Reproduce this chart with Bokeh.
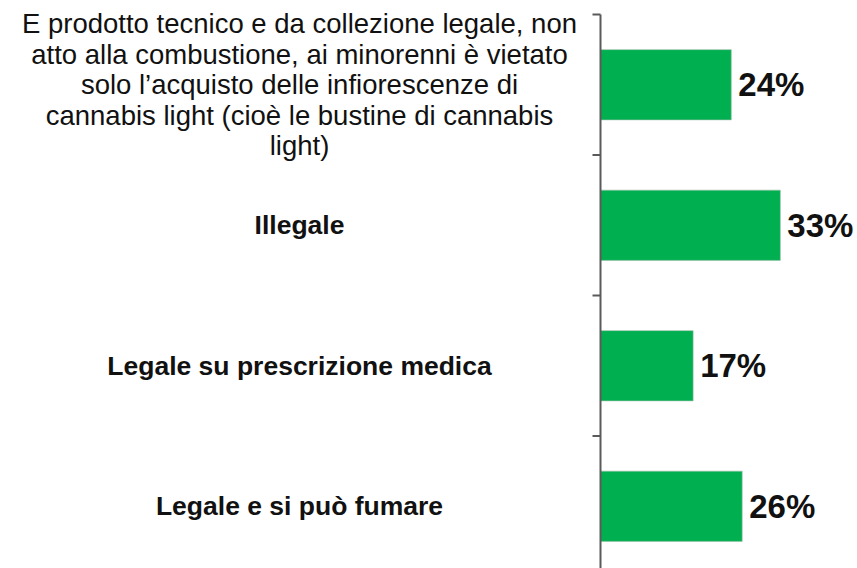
from bokeh.plotting import figure
from bokeh.models import Range1d, ColumnDataSource
from bokeh.core.properties import value
from bokeh.embed import file_html
from bokeh.resources import INLINE

# ---- data ----
categories = [
    "E prodotto tecnico e da collezione legale, non\natto alla combustione, ai minorenni è vietato\nsolo l’acquisto delle infiorescenze di\ncannabis light (cioè le bustine di cannabis\nlight)",
    "Illegale",
    "Legale su prescrizione medica",
    "Legale e si può fumare",
]
label_styles = ["normal", "bold", "bold", "bold"]
percentages = [24, 33, 17, 26]

# ---- layout constants ----
W, H = 857, 568
PX_PER_UNIT = 5.45          # pixels per percentage point
AXIS_X = 600                # canvas x of the value axis
BAND_PX = 140.5             # pixels per category band
TOP_OFFSET = 14             # canvas y of first band's top edge

x_start = -AXIS_X / PX_PER_UNIT
x_end = (W - AXIS_X) / PX_PER_UNIT
y_top = -0.5 - TOP_OFFSET / BAND_PX
y_bottom = y_top + H / BAND_PX
label_center_x = (299 - AXIS_X) / PX_PER_UNIT

p = figure(width=W, height=H, output_backend="svg", toolbar_location=None,
           x_range=Range1d(x_start, x_end), y_range=Range1d(y_bottom, y_top),
           x_axis_location=None, y_axis_location=None, min_border=0,
           background_fill_color="white", border_fill_color="white")
p.outline_line_color = None
p.grid.visible = False

n = len(categories)
idx = list(range(n))
src = ColumnDataSource(dict(
    y=idx, pct=percentages, lbl=[f"{v}%" for v in percentages],
))

# bars
p.hbar(y="y", left=0, right="pct", height=0.5, source=src,
       fill_color="#00B050", line_color="#9fbfa9", line_width=0.6)

# value labels
p.text(x="pct", y="y", text="lbl", source=src, x_offset=7,
       text_font=value("Liberation Sans"), text_font_size="33px",
       text_font_style="bold", text_align="left", text_baseline="middle",
       text_color="#111111")

# category labels
regular = [i for i in idx if label_styles[i] == "normal"]
bold = [i for i in idx if label_styles[i] == "bold"]
p.text(x=[label_center_x] * len(regular), y=regular, text=[categories[i] for i in regular],
       text_font=value("Liberation Sans"), text_font_size="27.5px",
       text_font_style="normal", text_align="center", text_baseline="middle",
       text_line_height=0.98, text_color="#111111")
p.text(x=[label_center_x] * len(bold), y=bold, text=[categories[i] for i in bold],
       text_font=value("Liberation Sans"), text_font_size="26.5px",
       text_font_style="bold", text_align="center", text_baseline="middle",
       text_color="#111111")

# value axis line and category separator ticks
tick_len = 8 / PX_PER_UNIT
p.segment(x0=[0], y0=[-0.5], x1=[0], y1=[n + 0.5], line_color="#5a5a5a", line_width=2)
bounds = [i - 0.5 for i in idx]
p.segment(x0=[-tick_len] * n, y0=bounds, x1=[0] * n, y1=bounds,
          line_color="#5a5a5a", line_width=2)

open("out.html", "w").write(file_html(p, INLINE))
